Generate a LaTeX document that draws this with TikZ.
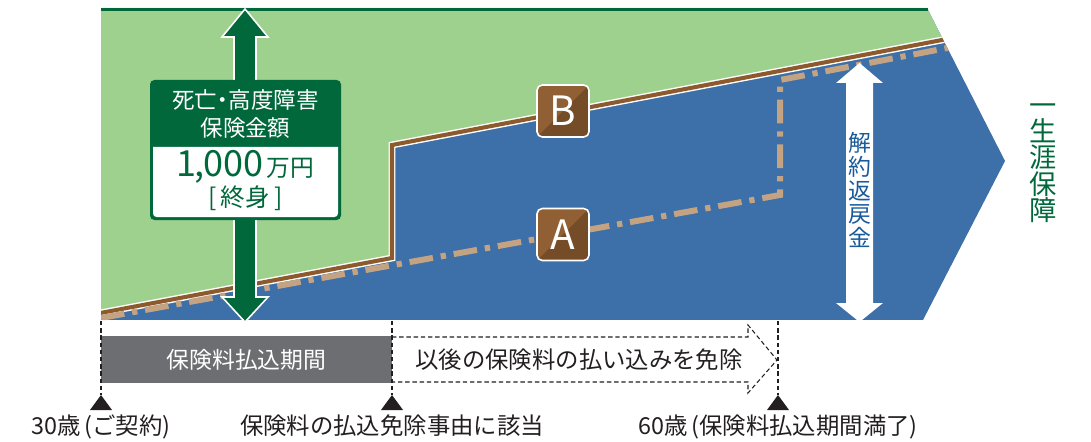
\documentclass[tikz,border=0pt]{standalone}
\usepackage{fontspec}
\setmainfont{Noto Sans CJK JP}
\usetikzlibrary{positioning}

\definecolor{leafgreen}{RGB}{158,208,142}
\definecolor{deepgreen}{RGB}{0,104,59}
\definecolor{planblue}{RGB}{61,111,168}
\definecolor{barkbrown}{RGB}{140,90,45}
\definecolor{sandtan}{RGB}{196,163,131}
\definecolor{badgelight}{RGB}{144,96,52}
\definecolor{badgedark}{RGB}{116,77,40}
\definecolor{bargray}{RGB}{109,110,113}
\definecolor{inkgray}{RGB}{35,31,32}
\definecolor{textblue}{RGB}{25,90,155}

\begin{document}
\begin{tikzpicture}[x=0.02cm,y=-0.02cm]
 \tikzset{badge node/.style={rectangle, draw=white, line width=0.9pt,
 		fill=badgelight, rounded corners=3pt, minimum size=1.04cm,
 		text=white, font=\fontsize{23}{23}\selectfont,
 		path picture={\fill[badgedark] (path picture bounding box.north east)
 		-- (path picture bounding box.south east)
 		-- (path picture bounding box.south west) -- cycle;}}, }
 \tikzset{bar node/.style={rectangle, fill=bargray, text=white,
 		minimum width=5.82cm, minimum height=0.94cm,
 		font=\fontsize{13}{13}\selectfont}, }
 \tikzset{time node/.style={text=inkgray, inner sep=0pt,
 		font=\fontsize{13.3}{13.3}\selectfont}, }
 \tikzset{dash line/.style={inkgray, line width=0.6pt,
 		dash pattern=on 2.5pt off 1.6pt}, }
 \tikzset{vert node/.style={align=center, inner sep=0pt}, }
 \useasboundingbox (0,0) rectangle (1091,442);
 % plan area
 \begin{scope}
 \clip (101,8) -- (927,8) -- (1005,161) -- (923,320) -- (101,320) -- cycle;
 \fill[planblue] (101,8) rectangle (1010,320);
 \fill[leafgreen] (95,0) -- (1010,0) -- (1010,27) -- (392,145)
 	-- (392,258) -- (95,314) -- cycle;
 \draw[white, line width=3.9pt] (95,314) -- (392,258) -- (392,145) -- (1010,27);
 \draw[barkbrown, line width=2.3pt] (95,314) -- (392,258) -- (392,145) -- (1010,27);
 \draw[sandtan, line width=3.4pt, dash pattern=on 13.5pt off 4.5pt on 3pt off 4.5pt]
 	(101,318) -- (780,195) -- (780,80) -- (1010,36);
 \end{scope}
 \draw[deepgreen, line width=1.7pt] (101,9.5) -- (928,9.5);
 % sum assured
 \fill[deepgreen, draw=white, line width=0.9pt] (234,37) -- (222,37) -- (245,9)
 	-- (268,37) -- (256,37) -- (256,297) -- (268,297) -- (245,322)
 	-- (222,297) -- (234,297) -- cycle;
 \fill[deepgreen, rounded corners=2.5pt] (150,80) rectangle (341,220);
 \fill[white] (153,147) -- (338,147) [rounded corners=2pt] -- (338,217)
 	-- (153,217) [sharp corners] -- cycle;
 \node[vert node, text=white, font=\fontsize{12.8}{16}\selectfont] (title)
 	at (245.5,114) {死亡{\kern-0.25em}・{\kern-0.25em}高度障害\\保険金額};
 \node[text=deepgreen, inner sep=0pt] (amount) at (245.5,167)
 	{\fontsize{20.5}{20}\selectfont 1{\kern-0.05em},{\kern-0.03em}000\kern0.08em\fontsize{13.5}{13}\selectfont 万円};
 \node[text=deepgreen, inner sep=0pt, font=\fontsize{14}{14}\selectfont]
 	(term) at (245.5,198) {[\,終身\,]};
 % surrender value
 \fill[white] (846,83) -- (836,83) -- (859.5,63) -- (883,83) -- (873,83)
 	-- (873,303) -- (883,303) -- (859.5,322) -- (836,303) -- (846,303) -- cycle;
 \node[vert node, text=textblue, font=\fontsize{13}{13.4}\selectfont] (refund)
 	at (859.5,190) {解\\約\\返\\戻\\金};
 \node[vert node, text=deepgreen, font=\fontsize{15.5}{15}\selectfont] (life)
 	at (1043,163) {一\\生\\涯\\保\\障};
 \node[badge node] (B) at (563,111) {B};
 \node[badge node] (A) at (563,234.5) {A};
 % timeline
 \node[bar node] (paid) at (246.5,359.5) {保険料払込期間};
 \draw[dash line] (392,337) -- (748,337) -- (748,325) -- (777,360)
 	-- (748,393) -- (748,382) -- (392,382);
 \node[time node] (waive) at (579,360) {以後の保険料の払い込みを免除};
 \foreach \x/\txt in {101/30歳\,(ご契約), 392/保険料の払込免除事由に該当,
 	778/60歳\,(保険料払込期間満了)} {
 \coordinate (top\x) at (\x,321);
 \coordinate (tip\x) at (\x,395);
 \draw[dash line] (top\x) -- (tip\x);
 \fill[inkgray] (tip\x) -- ++(11,15) -- ++(-22,0) -- cycle;
 \node[time node] (lab\x) [below=11pt of tip\x] {\txt};
 }
 %
\end{tikzpicture}
\end{document}
